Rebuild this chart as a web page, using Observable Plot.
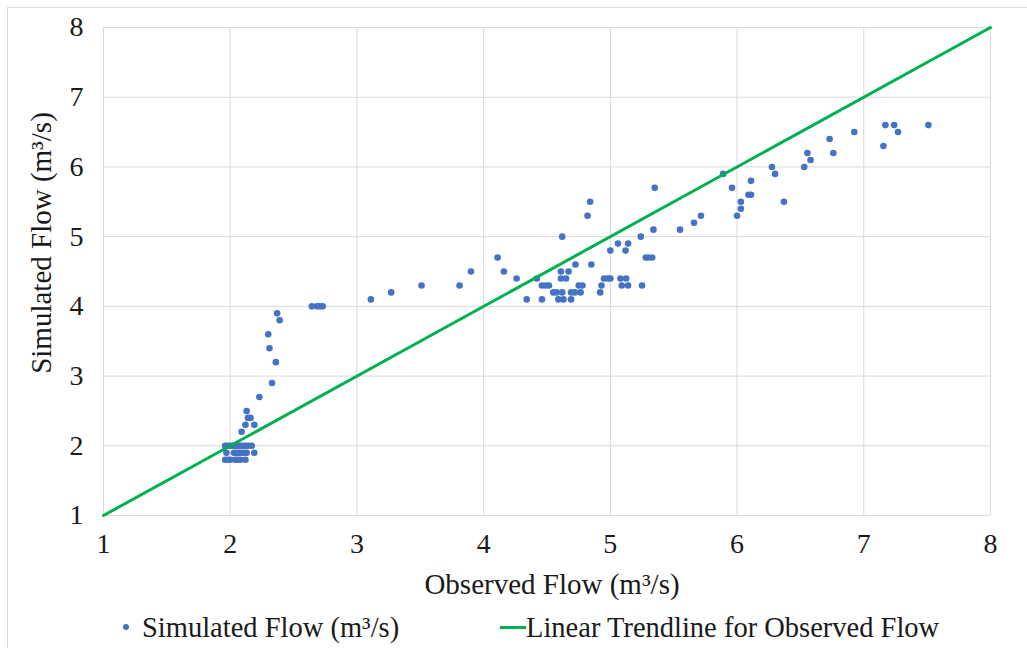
<!DOCTYPE html>
<html>
<head>
<meta charset="utf-8">
<script src="https://cdn.jsdelivr.net/npm/d3@7"></script>
<script src="https://cdn.jsdelivr.net/npm/@observablehq/plot@0.6"></script>
<style>
  body { margin: 0; background: #fff; font-family: "Liberation Serif", serif; }
  #wrap { position: relative; width: 1027px; height: 648px; overflow: hidden; }
  #border { position: absolute; left: 7px; top: 7px; width: 1040px; height: 660px; border-left: 1px solid #d9d9d9; border-top: 1px solid #d9d9d9; pointer-events: none; }
  .lbl { position: absolute; color: #1a1a1a; font-size: 29px; white-space: nowrap; line-height: 1; }
  #ytitle { left: 41px; top: 243px; transform: translate(-50%, -50%) rotate(-90deg); }
  #xtitle { left: 552px; top: 584px; transform: translate(-50%, -50%); }
  .leg { position: absolute; top: 628px; transform: translateY(-50%); font-size: 28.5px; line-height: 1; color: #1a1a1a; white-space: nowrap; }
  .legdot { position: absolute; left: 123px; top: 624px; width: 6px; height: 6px; border-radius: 50%; background: #4472C4; }
  .legline { position: absolute; left: 500px; top: 625.5px; width: 26px; height: 3px; background: #00B050; }
</style>
</head>
<body>
<div id="wrap">
  <div id="chart"></div>
  <div id="ytitle" class="lbl">Simulated Flow (m³/s)</div>
  <div id="xtitle" class="lbl">Observed Flow (m³/s)</div>
  <div class="legdot"></div>
  <div class="leg" style="left:142px">Simulated Flow (m³/s)</div>
  <div class="legline"></div>
  <div class="leg" style="left:526px">Linear Trendline for Observed Flow</div>
  <div id="border"></div>
</div>
<script>
// Observed flow (x) and simulated flow (y), m³/s
const observed = [
  1.96,1.98,2.00,2.02,2.04,2.06,2.08,2.10,2.12,2.14,2.17,
  1.97,2.03,2.05,2.07,2.09,2.11,2.13,2.19,
  1.96,1.98,2.00,2.04,2.06,2.08,2.12,
  2.09,2.12,2.19,2.14,2.16,2.13,2.23,2.33,2.36,2.31,2.30,2.39,2.37,
  2.645,2.685,2.707,2.73,
  3.11,3.27,3.51,3.81,3.90,4.11,4.16,4.26,4.34,4.42,4.46,4.49,4.515,4.46,
  4.55,4.575,4.59,4.63,4.62,4.61,4.67,4.61,4.65,4.62,4.69,4.69,4.72,4.765,
  4.725,4.75,4.78,4.82,4.84,4.85,4.92,4.93,4.95,4.98,5.00,5.00,5.06,5.08,
  5.125,5.09,5.14,5.12,5.14,5.24,5.25,5.28,5.30,5.33,5.34,5.35,5.55,5.66,
  5.715,5.89,5.96,6.00,6.03,6.03,6.09,6.11,6.11,6.275,6.30,6.37,6.53,6.555,
  6.58,6.73,6.76,6.925,7.155,7.17,7.24,7.27,7.51
];
const simulated = [
  2.0,2.0,2.0,2.0,2.0,2.0,2.0,2.0,2.0,2.0,2.0,
  1.9,1.9,1.9,1.9,1.9,1.9,1.9,1.9,
  1.8,1.8,1.8,1.8,1.8,1.8,1.8,
  2.2,2.3,2.3,2.4,2.4,2.5,2.7,2.9,3.2,3.4,3.6,3.8,3.9,
  4.0,4.0,4.0,4.0,
  4.1,4.2,4.3,4.3,4.5,4.7,4.5,4.4,4.1,4.4,4.3,4.3,4.3,4.1,
  4.2,4.2,4.1,4.1,4.2,4.5,4.5,4.4,4.4,5.0,4.1,4.2,4.2,4.2,
  4.6,4.3,4.3,5.3,5.5,4.6,4.2,4.3,4.4,4.4,4.4,4.8,4.9,4.4,
  4.4,4.3,4.3,4.8,4.9,5.0,4.3,4.7,4.7,4.7,5.1,5.7,5.1,5.2,
  5.3,5.9,5.7,5.3,5.4,5.5,5.6,5.6,5.8,6.0,5.9,5.5,6.0,6.2,
  6.1,6.4,6.2,6.5,6.3,6.6,6.6,6.5,6.6
];
// Linear trendline endpoints (y = x)
const trendX = [1, 8];
const trendY = [1, 8];
const ticks = [1, 2, 3, 4, 5, 6, 7, 8];

const points = observed.map((x, i) => ({x, y: simulated[i]}));
const trend = trendX.map((x, i) => ({x, y: trendY[i]}));

const chart = Plot.plot({
  width: 1027,
  height: 600,
  marginLeft: 103,
  marginRight: 37,
  marginTop: 27,
  marginBottom: 85,
  style: { fontFamily: "Liberation Serif", fontSize: "28px", color: "#1a1a1a", background: "transparent" },
  x: { domain: [1, 8], ticks },
  y: { domain: [1, 8], ticks },
  marks: [
    Plot.gridX(ticks, { stroke: "#d9d9d9", strokeOpacity: 1, strokeWidth: 1 }),
    Plot.gridY(ticks, { stroke: "#d9d9d9", strokeOpacity: 1, strokeWidth: 1 }),
    Plot.axisX({ ticks, tickSize: 0, tickPadding: 18, tickFormat: d => String(d), label: null }),
    Plot.axisY({ ticks, tickSize: 0, tickPadding: 20, tickFormat: d => String(d), label: null }),
    Plot.dot(points, { x: "x", y: "y", r: 3.3, fill: "#4472C4", stroke: "none" }),
    Plot.line(trend, { x: "x", y: "y", stroke: "#00B050", strokeWidth: 3 })
  ]
});
document.getElementById("chart").appendChild(chart);
</script>
</body>
</html>
